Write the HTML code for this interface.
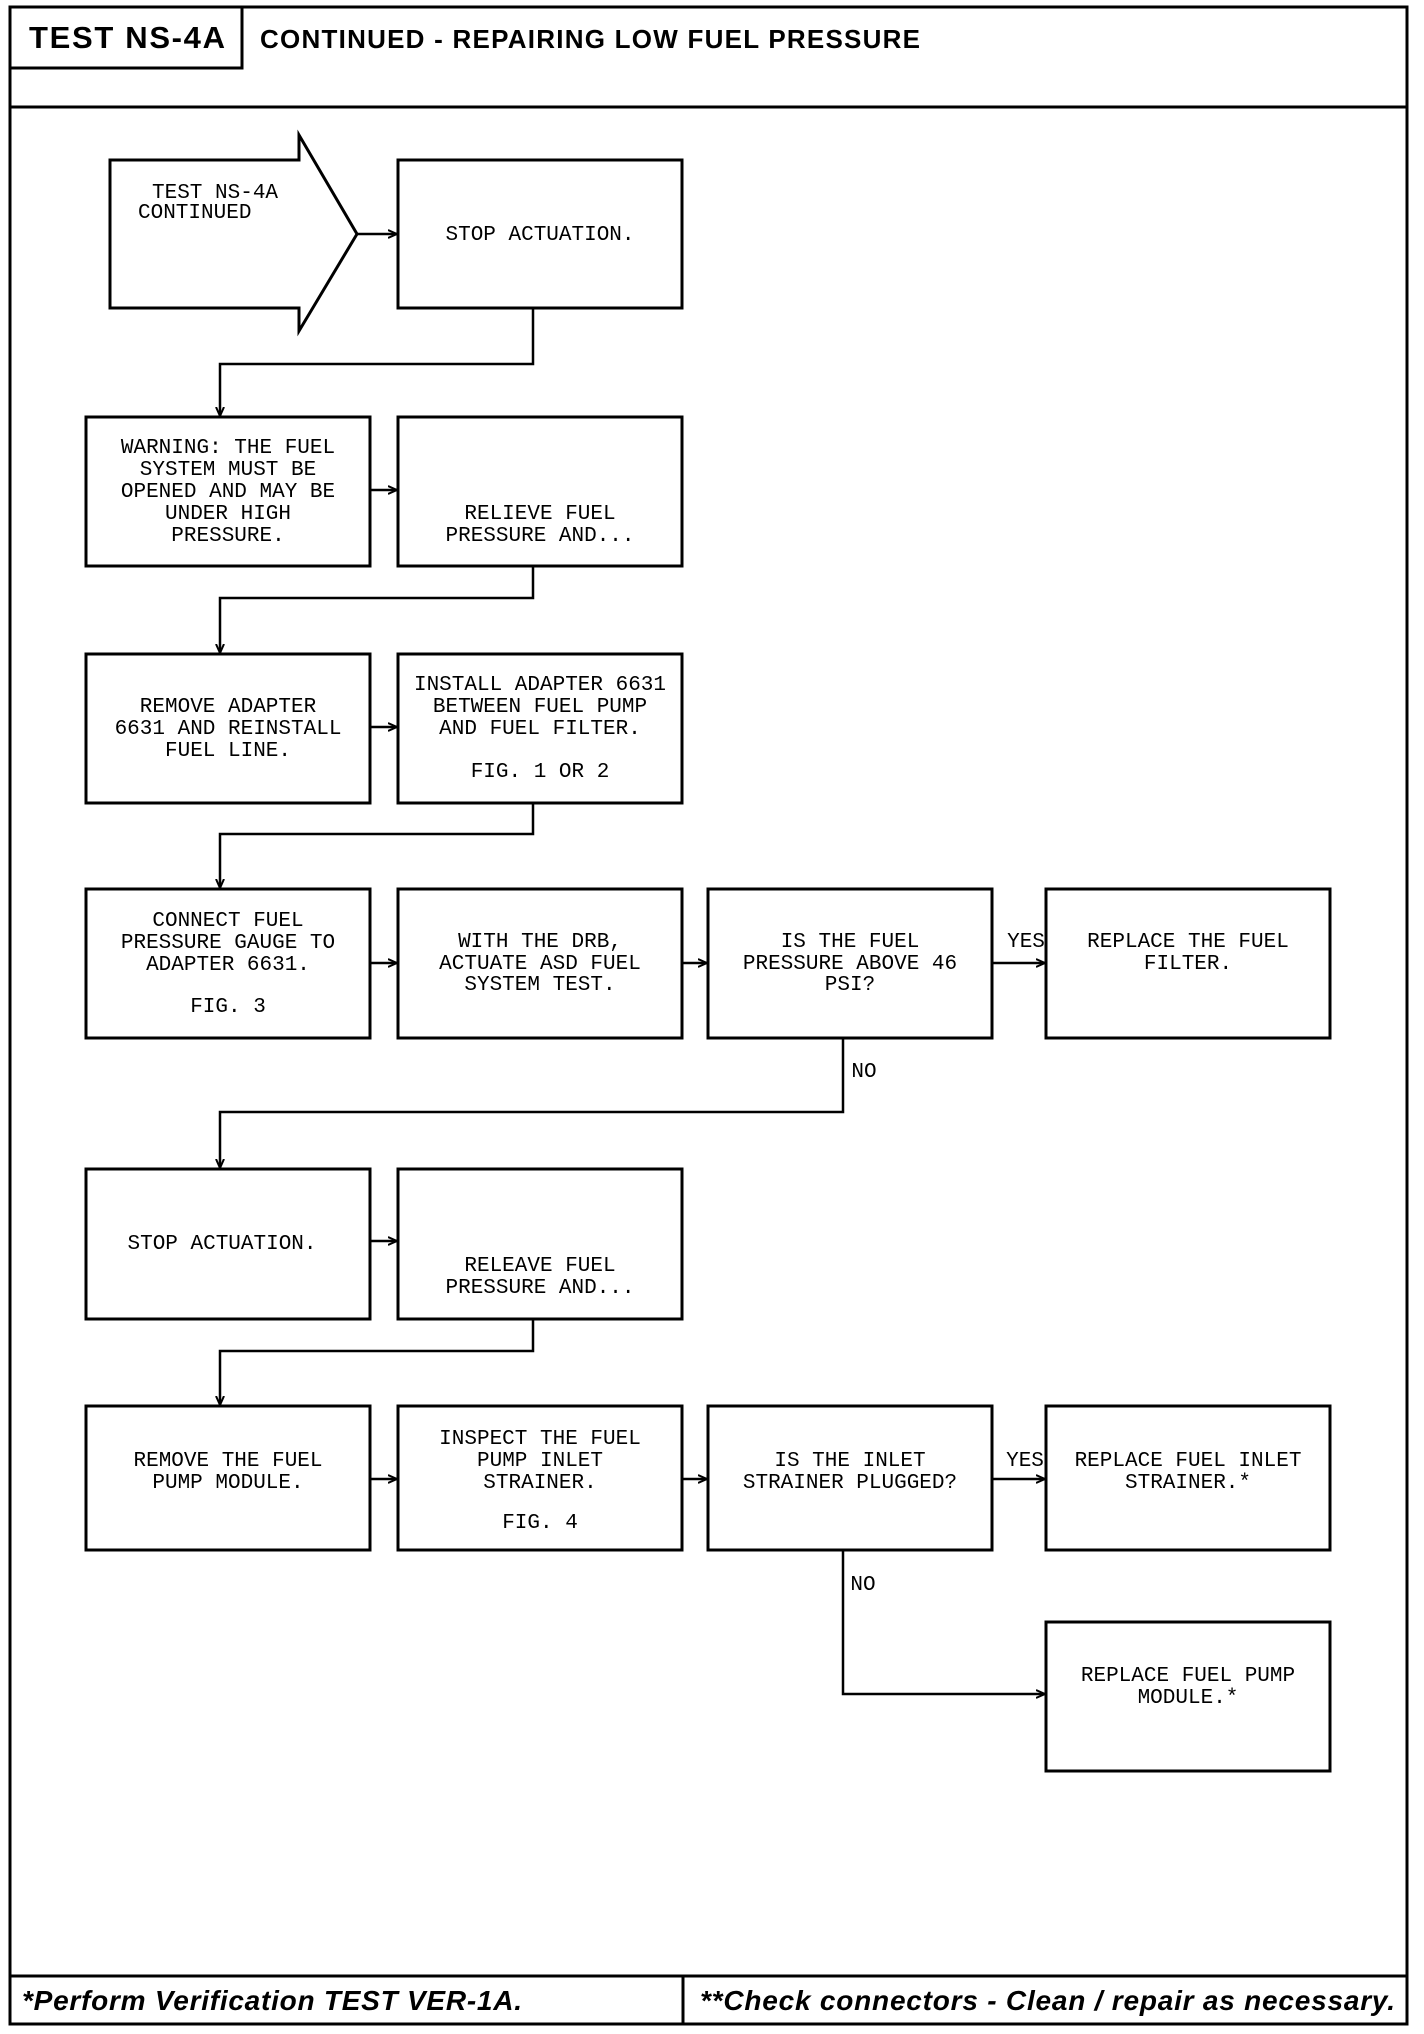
<!DOCTYPE html>
<html><head><meta charset="utf-8"><style>
html,body{margin:0;padding:0;background:#fff}
svg{display:block}
.t{font-family:"Liberation Mono",monospace;font-size:21px;fill:#000;text-anchor:middle}
.h{font-family:"Liberation Sans",sans-serif;font-weight:bold;fill:#000}
.f{font-family:"Liberation Sans",sans-serif;font-weight:bold;font-style:italic;font-size:28px;fill:#000}
</style></head><body>
<svg width="1424" height="2034" viewBox="0 0 1424 2034" xmlns="http://www.w3.org/2000/svg">
<defs><marker id="a" markerWidth="10" markerHeight="10" refX="9" refY="5" orient="auto" markerUnits="userSpaceOnUse"><path d="M0,1 L9,5 L0,9" fill="none" stroke="#000" stroke-width="2"/></marker></defs>
<g fill="none" stroke="#000" stroke-width="3">
<rect x="10" y="7" width="1397" height="2017"/>
<polyline points="10,68 242,68 242,7"/>
<line x1="10" y1="107" x2="1407" y2="107"/>
<line x1="10" y1="1976" x2="1407" y2="1976"/>
<line x1="683" y1="1976" x2="683" y2="2024"/>
<polygon points="110,160 299,160 299,135 357,234 299,331 299,308 110,308"/>
<rect x="398" y="160" width="284" height="148"/>
<rect x="86" y="417" width="284" height="149"/><rect x="398" y="417" width="284" height="149"/>
<rect x="86" y="654" width="284" height="149"/><rect x="398" y="654" width="284" height="149"/>
<rect x="86" y="889" width="284" height="149"/><rect x="398" y="889" width="284" height="149"/>
<rect x="708" y="889" width="284" height="149"/><rect x="1046" y="889" width="284" height="149"/>
<rect x="86" y="1169" width="284" height="150"/><rect x="398" y="1169" width="284" height="150"/>
<rect x="86" y="1406" width="284" height="144"/><rect x="398" y="1406" width="284" height="144"/>
<rect x="708" y="1406" width="284" height="144"/><rect x="1046" y="1406" width="284" height="144"/>
<rect x="1046" y="1622" width="284" height="149"/>
</g>
<g fill="none" stroke="#000" stroke-width="2.5" marker-end="url(#a)">
<line x1="357" y1="234" x2="397" y2="234"/>
<polyline points="533,308 533,364 220,364 220,416"/>
<line x1="370" y1="490" x2="397" y2="490"/>
<polyline points="533,566 533,598 220,598 220,653"/>
<line x1="370" y1="727" x2="397" y2="727"/>
<polyline points="533,803 533,834 220,834 220,888"/>
<line x1="370" y1="963" x2="397" y2="963"/>
<line x1="682" y1="963" x2="707" y2="963"/>
<line x1="992" y1="963" x2="1045" y2="963"/>
<polyline points="843,1038 843,1112 220,1112 220,1168"/>
<line x1="370" y1="1241" x2="397" y2="1241"/>
<polyline points="533,1319 533,1351 220,1351 220,1405"/>
<line x1="370" y1="1479" x2="397" y2="1479"/>
<line x1="682" y1="1479" x2="707" y2="1479"/>
<line x1="992" y1="1479" x2="1045" y2="1479"/>
<polyline points="843,1550 843,1694 1045,1694"/>
</g>
<text class="h" x="29" y="48" font-size="31" textLength="196">TEST NS-4A</text>
<text class="h" x="260" y="48" font-size="26" textLength="660">CONTINUED - REPAIRING LOW FUEL PRESSURE</text>
<text class="t" x="152" y="198" style="text-anchor:start">TEST NS-4A</text>
<text class="t" x="138" y="218" style="text-anchor:start">CONTINUED</text>
<text class="t" x="540" y="240">STOP ACTUATION.</text>
<text class="t" x="228" y="453">WARNING: THE FUEL</text>
<text class="t" x="228" y="475">SYSTEM MUST BE</text>
<text class="t" x="228" y="497">OPENED AND MAY BE</text>
<text class="t" x="228" y="519">UNDER HIGH</text>
<text class="t" x="228" y="541">PRESSURE.</text>
<text class="t" x="540" y="519">RELIEVE FUEL</text>
<text class="t" x="540" y="541">PRESSURE AND...</text>
<text class="t" x="228" y="712">REMOVE ADAPTER</text>
<text class="t" x="228" y="734">6631 AND REINSTALL</text>
<text class="t" x="228" y="756">FUEL LINE.</text>
<text class="t" x="540" y="690">INSTALL ADAPTER 6631</text>
<text class="t" x="540" y="712">BETWEEN FUEL PUMP</text>
<text class="t" x="540" y="734">AND FUEL FILTER.</text>
<text class="t" x="540" y="777">FIG. 1 OR 2</text>
<text class="t" x="228" y="926">CONNECT FUEL</text>
<text class="t" x="228" y="948">PRESSURE GAUGE TO</text>
<text class="t" x="228" y="970">ADAPTER 6631.</text>
<text class="t" x="228" y="1012">FIG. 3</text>
<text class="t" x="540" y="947">WITH THE DRB,</text>
<text class="t" x="540" y="969">ACTUATE ASD FUEL</text>
<text class="t" x="540" y="990">SYSTEM TEST.</text>
<text class="t" x="850" y="947">IS THE FUEL</text>
<text class="t" x="850" y="969">PRESSURE ABOVE 46</text>
<text class="t" x="850" y="990">PSI?</text>
<text class="t" x="1188" y="947">REPLACE THE FUEL</text>
<text class="t" x="1188" y="969">FILTER.</text>
<text class="t" x="1026" y="947">YES</text>
<text class="t" x="864" y="1077">NO</text>
<text class="t" x="222" y="1249">STOP ACTUATION.</text>
<text class="t" x="540" y="1271">RELEAVE FUEL</text>
<text class="t" x="540" y="1293">PRESSURE AND...</text>
<text class="t" x="228" y="1466">REMOVE THE FUEL</text>
<text class="t" x="228" y="1488">PUMP MODULE.</text>
<text class="t" x="540" y="1444">INSPECT THE FUEL</text>
<text class="t" x="540" y="1466">PUMP INLET</text>
<text class="t" x="540" y="1488">STRAINER.</text>
<text class="t" x="540" y="1528">FIG. 4</text>
<text class="t" x="850" y="1466">IS THE INLET</text>
<text class="t" x="850" y="1488">STRAINER PLUGGED?</text>
<text class="t" x="1188" y="1466">REPLACE FUEL INLET</text>
<text class="t" x="1188" y="1488">STRAINER.*</text>
<text class="t" x="1025" y="1466">YES</text>
<text class="t" x="863" y="1590">NO</text>
<text class="t" x="1188" y="1681">REPLACE FUEL PUMP</text>
<text class="t" x="1188" y="1703">MODULE.*</text>
<text class="f" x="22" y="2010" textLength="500">*Perform Verification TEST VER-1A.</text>
<text class="f" x="700" y="2010" textLength="695">**Check connectors - Clean / repair as necessary.</text>
</svg>
</body></html>
